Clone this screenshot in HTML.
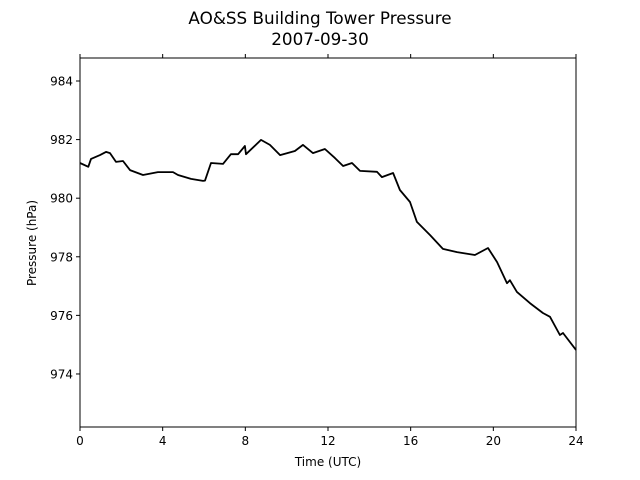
<!DOCTYPE html>
<html><head><meta charset="utf-8"><style>
body{margin:0;background:#fff}
svg{display:block;font-family:"DejaVu Sans","Liberation Sans",sans-serif}
</style></head><body>
<svg id="c" width="640" height="480">
<text x="320" y="24" text-anchor="middle" font-size="16.8">AO&amp;SS Building Tower Pressure</text>
<text x="320" y="45" text-anchor="middle" font-size="16.8">2007-09-30</text>
<text x="328" y="466" text-anchor="middle" font-size="12">Time (UTC)</text>
<text transform="translate(36,243) rotate(-90)" text-anchor="middle" font-size="12">Pressure (hPa)</text>
<g id="ticks"></g>
<path id="line" fill="none" stroke="#000" stroke-width="1.8" stroke-linejoin="round"/>
<rect x="80" y="58" width="496" height="369" fill="none" stroke="#000" stroke-width="1"/>
</svg>
<script>
const hours=[0,0.4,0.53,0.97,1.26,1.45,1.74,2.08,2.42,3.05,3.77,4.5,4.74,5.37,5.95,6.05,6.34,6.92,7.3,7.65,7.98,8.03,8.76,9.19,9.68,10.4,10.79,11.27,11.85,12.34,12.73,13.16,13.55,14.37,14.61,15.15,15.48,15.97,16.3,16.94,17.56,18.24,19.11,19.74,20.18,20.66,20.8,21.14,21.77,22.4,22.74,23.22,23.37,24];
const pressure=[981.2,981.07,981.34,981.47,981.58,981.54,981.24,981.27,980.96,980.79,980.89,980.89,980.79,980.66,980.59,980.6,981.2,981.17,981.5,981.5,981.78,981.5,981.99,981.82,981.47,981.61,981.82,981.54,981.68,981.37,981.1,981.2,980.93,980.9,980.72,980.86,980.28,979.87,979.19,978.74,978.27,978.16,978.06,978.3,977.82,977.1,977.2,976.8,976.42,976.08,975.95,975.33,975.4,974.82];
const xTicks=[0,4,8,12,16,20,24];
const yTicks=[974,976,978,980,982,984];
const X0=80,X1=576,Y0=427,Y1=58,XMIN=0,XMAX=24,YMIN=972.19,YMAX=984.785;
const sx=h=>X0+(h-XMIN)/(XMAX-XMIN)*(X1-X0);
const sy=v=>Y0-(v-YMIN)/(YMAX-YMIN)*(Y0-Y1);
const NS="http://www.w3.org/2000/svg";
const g=document.getElementById('ticks');
function mk(t,a){const e=document.createElementNS(NS,t);for(const k in a)e.setAttribute(k,a[k]);g.appendChild(e);return e;}
xTicks.forEach(t=>{const x=sx(t);
 const l1=mk('line',{x1:x,x2:x,y1:Y0,y2:Y0+4,stroke:'#000'});
 
 
 const l2=mk('line',{x1:x,x2:x,y1:Y1,y2:Y1-4,stroke:'#000'});
 
 
 const tx=mk('text',{x:x,y:Y0+18,'text-anchor':'middle','font-size':12});tx.textContent=t;
 
 });
yTicks.forEach(t=>{const y=sy(t);
 const l1=mk('line',{x1:X0-4,x2:X0,y1:y,y2:y,stroke:'#000'});
 
 
 const tx=mk('text',{x:X0-7,y:y+4.5,'text-anchor':'end','font-size':12});tx.textContent=t;
 
 });
document.getElementById('line').setAttribute('d',hours.map((h,i)=>(i?'L':'M')+sx(h).toFixed(1)+','+sy(pressure[i]).toFixed(1)).join(''));
</script>
</body></html>
